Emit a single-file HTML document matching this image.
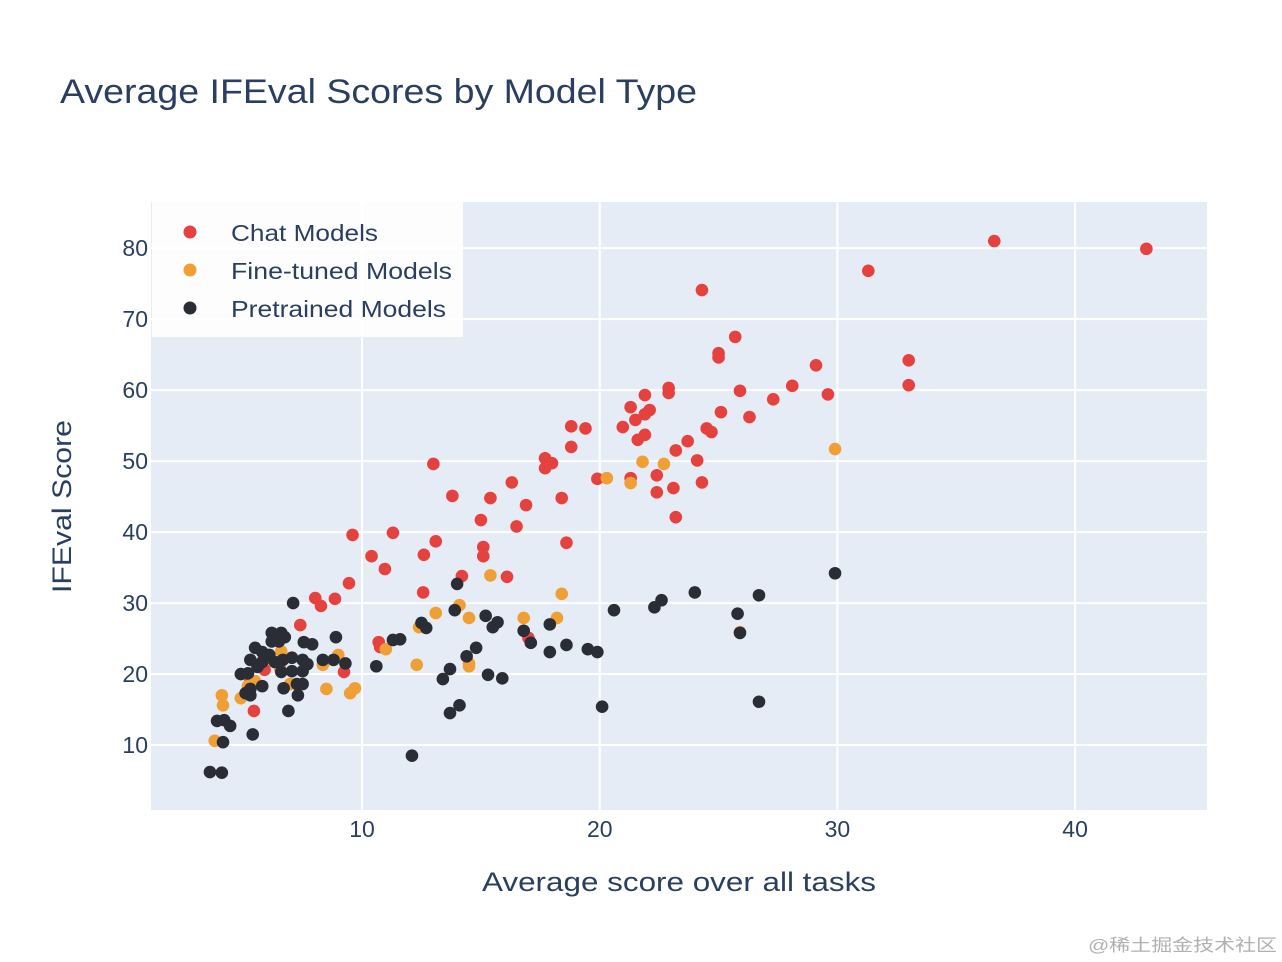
<!DOCTYPE html>
<html><head><meta charset="utf-8"><style>
html,body{margin:0;padding:0;background:#fff;}
svg{display:block;font-family:"Liberation Sans","Noto Sans CJK SC",sans-serif;}
</style></head><body>
<svg id="chart" width="1282" height="962" viewBox="0 0 1282 962">
<text x="60" y="103" font-size="34" fill="#2a3f5f" textLength="637" lengthAdjust="spacingAndGlyphs">Average IFEval Scores by Model Type</text>
<rect x="151" y="202" width="1056" height="608" fill="#e5ecf6"/>
<g id="grid"></g>
<g id="ticks"></g>
<g id="points"></g>
<text x="482" y="891" font-size="27" fill="#2a3f5f" textLength="394" lengthAdjust="spacingAndGlyphs">Average score over all tasks</text>
<text transform="translate(71,593) rotate(-90)" font-size="27" fill="#2a3f5f" textLength="173" lengthAdjust="spacingAndGlyphs">IFEval Score</text>
<g>
<rect x="152" y="202" width="311" height="135" fill="#ffffff" opacity="0.9"/>
<g><circle cx="190" cy="232" r="6.5" fill="#e5413e"/><text x="231" y="241" font-size="23" fill="#2a3f5f" textLength="147" lengthAdjust="spacingAndGlyphs">Chat Models</text></g>
<g><circle cx="190" cy="270" r="6.5" fill="#ef9f33"/><text x="231" y="279" font-size="23" fill="#2a3f5f" textLength="221" lengthAdjust="spacingAndGlyphs">Fine-tuned Models</text></g>
<g><circle cx="190" cy="308" r="6.5" fill="#2a2d36"/><text x="231" y="317" font-size="23" fill="#2a3f5f" textLength="215" lengthAdjust="spacingAndGlyphs">Pretrained Models</text></g>
</g>
<text x="1088" y="951" font-size="17" fill="#b0b0b0" textLength="189" lengthAdjust="spacingAndGlyphs">@稀土掘金技术社区</text>
</svg>
<script>
const xTicks=[10,20,30,40];
const yTicks=[10,20,30,40,50,60,70,80];
const chatX=[36.6,43.0,31.3,24.3,33.0,33.0,25.7,25.0,25.0,29.1,22.9,22.9,25.9,28.1,29.6,27.3,21.9,21.3,22.1,21.9,21.5,25.1,26.3,20.97,24.5,24.7,21.9,21.6,23.7,23.2,24.1,18.8,19.4,18.8,17.7,17.99,17.7,13.0,22.4,21.3,19.9,22.4,23.1,24.3,16.3,15.4,13.8,18.4,16.9,23.2,15.0,16.5,11.3,9.6,18.6,13.1,15.1,15.1,12.6,10.4,10.96,14.2,16.1,9.45,12.57,8.03,8.86,8.27,7.4,17.0,10.7,10.76,9.24,5.45,5.3,5.9];
const chatY=[81.0,79.9,76.8,74.1,64.2,60.7,67.5,65.2,64.6,63.5,60.3,59.6,59.9,60.6,59.4,58.7,59.3,57.6,57.2,56.6,55.8,56.9,56.2,54.8,54.6,54.1,53.7,53.0,52.8,51.5,50.1,54.9,54.6,52.0,50.4,49.7,49.0,49.6,48.0,47.6,47.5,45.6,46.2,47.0,47.0,44.8,45.1,44.8,43.8,42.1,41.7,40.8,39.9,39.6,38.5,38.7,37.9,36.6,36.8,36.6,34.8,33.8,33.7,32.8,31.5,30.7,30.6,29.6,26.9,25.1,24.5,23.8,20.3,14.8,19.0,20.6];
const ftX=[29.9,21.8,22.7,20.3,21.3,15.4,14.1,13.1,14.5,16.8,18.2,18.4,12.4,11.0,12.3,14.5,14.5,9.0,8.5,9.7,9.5,4.1,4.15,4.9,3.8,5.2,6.6,6.55,6.97,8.35,25.9,5.5,5.9];
const ftY=[51.7,49.9,49.6,47.6,46.9,33.9,29.7,28.6,27.9,27.9,27.9,31.3,26.6,23.5,21.3,21.5,21.1,22.7,17.9,18.0,17.3,17.0,15.6,16.6,10.6,18.3,23.2,20.8,18.6,21.3,25.9,19.0,22.0];
const ptX=[29.9,24.0,26.7,22.6,22.3,20.6,25.8,25.9,14.0,13.9,15.2,15.7,15.5,16.8,17.9,17.1,18.6,19.5,19.9,17.9,14.8,14.4,13.4,13.7,15.3,15.9,14.1,13.7,12.1,20.1,26.7,10.6,11.3,11.6,12.5,12.7,7.1,8.9,9.3,8.8,8.35,7.9,7.55,7.5,7.05,7.5,7.05,7.26,6.7,7.3,6.9,6.75,6.2,6.6,6.2,6.5,5.5,5.8,6.1,6.67,6.33,5.8,5.3,5.2,5.6,4.9,5.8,5.3,5.3,5.1,3.9,4.2,4.45,5.4,4.15,3.6,4.1,6.6,7.5,7.7];
const ptY=[34.2,31.5,31.1,30.4,29.4,29.0,28.5,25.8,32.7,29.0,28.2,27.3,26.6,26.1,27.0,24.4,24.1,23.5,23.1,23.1,23.7,22.5,19.3,20.7,19.9,19.4,15.6,14.5,8.5,15.4,16.1,21.1,24.8,24.9,27.2,26.5,30.0,25.2,21.5,22.0,22.0,24.2,24.5,22.0,22.3,20.4,20.4,18.6,18.0,17.0,14.8,25.2,25.8,25.8,24.6,24.6,23.7,23.1,22.7,22.0,21.7,21.7,22.0,20.1,21.0,20.0,18.3,17.9,17.0,17.3,13.4,13.5,12.7,11.5,10.4,6.2,6.1,20.3,18.6,21.4];
const NS='http://www.w3.org/2000/svg';
const X0=151,X1=1207,Y0=202,Y1=810,xmin=1.12,xmax=45.55,ymin=0.85,ymax=86.5;
function sx(v){return X0+(v-xmin)/(xmax-xmin)*(X1-X0);}
function sy(v){return Y1-(v-ymin)/(ymax-ymin)*(Y1-Y0);}
function mk(tag,attrs,parent){const e=document.createElementNS(NS,tag);for(const k in attrs)e.setAttribute(k,attrs[k]);parent.appendChild(e);return e;}
const grid=document.getElementById('grid'),ticks=document.getElementById('ticks'),pts=document.getElementById('points');
xTicks.forEach(t=>{
  const l=mk('line',{x1:sx(t),x2:sx(t),y1:Y0,y2:Y1,stroke:'#fff','stroke-width':2},grid);
  
  
  const tx=mk('text',{x:sx(t),y:837,'font-size':23,fill:'#2a3f5f','text-anchor':'middle'},ticks);
  tx.textContent=t;
  
  
});
yTicks.forEach(t=>{
  const l=mk('line',{x1:X0,x2:X1,y1:sy(t),y2:sy(t),stroke:'#fff','stroke-width':2},grid);
  
  
  const tx=mk('text',{x:148,y:sy(t)+8,'font-size':23,fill:'#2a3f5f','text-anchor':'end'},ticks);
  tx.textContent=t;
  
  
});
function series(xs,ys,color,name){
  xs.forEach((x,i)=>{
    const c=mk('circle',{cx:sx(x),cy:sy(ys[i]),r:6.3,fill:color},pts);
    
    
  });
}
series(chatX,chatY,'#e5413e','chat-point');
series(ftX,ftY,'#ef9f33','finetuned-point');
series(ptX,ptY,'#2a2d36','pretrained-point');
</script>
</body></html>
